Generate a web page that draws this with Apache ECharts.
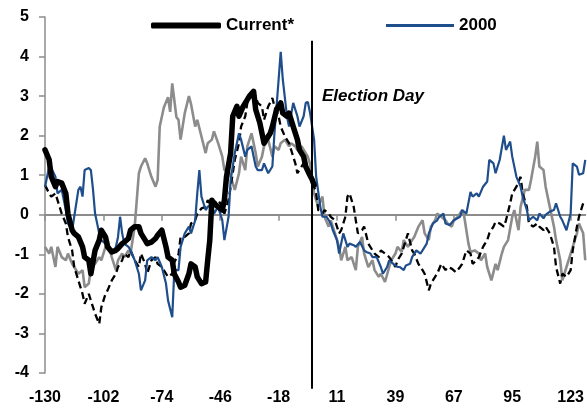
<!DOCTYPE html>
<html>
<head>
<meta charset="utf-8">
<script src="https://cdn.jsdelivr.net/npm/echarts@6/dist/echarts.min.js"></script>
<style>html,body{margin:0;padding:0;background:#fff}#c{width:587px;height:408px}</style>
</head>
<body>
<div id="c"></div>
<script>
// Trading days relative to Election Day (day 0 is not a trading day)
const categories = [];
for (let d = -130; d <= 130; d++) { if (d !== 0) categories.push(String(d)); }

const currentDays = [-130,-128,-127,-125,-124,-122,-120,-119,-117,-116,-114,-112,-111,-109,-108,-106,-104,-103,-101,-100,-98,-96,-95,-93,-92,-90,-89,-87,-85,-84,-82,-81,-79,-77,-76,-74,-72,-71,-69,-68,-66,-65,-63,-61,-60,-58,-57,-55,-53,-52,-51,-50,-49,-47,-45,-44,-43,-41,-40,-38,-37,-35,-33,-32,-30,-29,-27,-25,-24,-22,-21,-19,-17,-16,-14,-13,-11,-9,-8,-6,-5,-3,-2,-1];
const currentVals = [1.64,1.39,0.96,0.71,0.84,0.8,0.54,0.03,-0.39,-0.47,-0.56,-0.81,-1.07,-1.15,-1.49,-0.9,-0.64,-0.39,-0.56,-0.81,-0.94,-0.9,-0.85,-0.73,-0.69,-0.6,-0.39,-0.3,-0.3,-0.47,-0.64,-0.73,-0.69,-0.6,-0.52,-0.39,-0.81,-1.07,-1.15,-1.5,-1.7,-1.83,-1.78,-1.49,-1.24,-1.32,-1.57,-1.74,-1.7,-1.15,-0.64,0.37,0.29,0.2,0.12,0.37,0.96,1.56,2.49,2.74,2.49,2.74,2.91,3.0,3.12,2.66,2.32,1.81,1.9,2.06,2.23,2.66,2.83,2.57,2.49,2.57,2.23,1.9,1.64,1.47,1.22,1.0,0.9,0.75];

const y2000Days = [-130,-128,-127,-125,-124,-122,-120,-119,-117,-116,-114,-113,-112,-111,-109,-108,-107,-106,-104,-103,-101,-100,-98,-96,-95,-94,-93,-92,-90,-89,-87,-85,-84,-82,-81,-79,-77,-76,-74,-72,-71,-69,-68,-66,-65,-63,-61,-60,-58,-57,-56,-55,-53,-52,-50,-49,-47,-45,-44,-42,-41,-39,-37,-36,-34,-33,-31,-29,-28,-26,-25,-23,-21,-20,-18,-17,-16,-14,-13,-11,-9,-8,-6,-5,-4,-3,-1,1,3,4,6,8,9,11,12,14,16,17,19,20,22,24,25,27,28,30,32,33,35,36,38,40,41,43,44,46,47,49,51,52,54,55,57,59,60,62,63,65,67,70,71,73,75,76,78,79,81,83,84,86,87,89,91,92,94,95,97,99,100,102,103,105,107,108,110,111,113,115,116,118,119,121,123,124,126,127,129,130];
const y2000Vals = [0.7,1.22,1.18,0.96,0.54,0.63,0.12,-0.22,-0.39,-0.05,0.63,0.71,0.46,1.13,1.18,1.13,0.65,0.03,-0.47,-0.64,-0.73,-0.81,-0.98,-0.81,-0.56,-0.05,-0.47,-0.73,-0.81,-0.9,-1.15,-1.49,-1.91,-1.66,-1.15,-1.07,-1.15,-1.07,-1.32,-1.74,-2.17,-2.59,-1.4,-1.4,-0.81,-0.47,-0.3,-0.47,-0.14,0.54,1.13,0.46,0.12,0.2,0.29,0.03,0.2,-0.14,-0.64,-0.05,0.88,1.56,2.06,1.9,1.47,1.64,1.73,1.22,1.13,1.13,1.3,1.05,1.22,2.06,3.42,4.12,3.42,2.49,2.23,2.83,2.49,2.23,2.49,2.83,2.85,2.6,1.9,0.96,0.2,-0.05,-0.05,-0.22,-0.39,-0.64,-0.98,-0.47,-0.81,-0.73,-0.77,-0.81,-0.69,-0.9,-0.94,-0.98,-1.07,-1.07,-1.32,-1.49,-1.32,-1.15,-1.24,-1.32,-1.32,-1.4,-1.28,-1.24,-1.07,-0.9,-0.98,-0.9,-0.73,-0.47,-0.22,-0.14,-0.05,0.03,-0.22,-0.26,-0.14,-0.05,0.12,0.03,0.58,0.46,0.54,0.46,0.71,0.84,1.39,1.3,1.05,1.39,2.0,1.64,1.85,1.47,0.96,0.71,0.46,0.12,-0.14,-0.05,-0.14,0.03,-0.09,0.0,0.08,0.12,0.29,-0.05,-0.14,-0.39,0.03,1.3,1.22,1.01,1.05,1.39];

const grayDays = [-130,-128,-127,-125,-124,-122,-120,-119,-117,-116,-114,-112,-111,-109,-108,-106,-104,-103,-101,-100,-98,-96,-95,-93,-92,-90,-89,-87,-85,-84,-82,-81,-79,-77,-76,-75,-73,-71,-70,-69,-67,-66,-65,-63,-61,-60,-58,-57,-55,-53,-52,-50,-49,-47,-45,-44,-42,-41,-39,-37,-36,-34,-33,-31,-29,-28,-26,-25,-23,-21,-20,-18,-17,-15,-13,-12,-10,-9,-7,-5,-4,-3,-2,-1,2,4,5,7,8,10,12,13,15,16,18,20,21,23,24,26,28,29,31,32,34,36,37,39,40,42,43,45,47,48,50,52,53,55,56,58,59,61,63,64,66,67,69,71,72,74,75,77,79,80,82,83,85,87,88,90,91,93,95,96,98,99,101,103,104,106,107,108,110,111,113,115,116,118,119,121,123,124,126,127,129,130];
const grayVals = [-0.81,-0.98,-0.81,-1.32,-0.81,-1.07,-1.15,-0.98,-1.24,-1.32,-1.49,-1.4,-1.83,-1.74,-1.32,-1.24,-1.07,-1.15,-0.81,-0.64,-1.07,-1.4,-1.15,-0.98,-1.07,-0.9,-0.98,-0.3,1.05,1.22,1.43,1.3,0.96,0.71,0.88,2.23,2.72,2.97,2.6,3.32,2.47,2.4,1.9,2.57,3.0,2.8,2.23,2.4,1.98,1.56,1.81,1.9,2.11,1.81,1.47,1.13,1.13,0.96,0.63,1.05,1.47,1.13,1.73,2.06,1.56,1.22,1.47,1.73,1.9,1.47,1.73,1.64,1.81,1.9,1.73,1.81,1.73,1.64,1.73,1.56,1.47,1.3,0.96,0.54,0.2,0.46,-0.05,-0.3,-0.14,-0.47,-0.81,-1.15,-0.81,-1.15,-1.07,-1.4,-0.81,-0.56,-0.98,-1.32,-1.15,-1.4,-1.57,-1.49,-1.7,-1.32,-1.15,-0.98,-0.81,-0.94,-0.64,-0.81,-0.64,-0.56,-0.3,-0.14,-0.47,-0.64,-0.3,-0.14,0.03,-0.05,-0.14,-0.22,-0.3,-0.14,-0.05,0.12,-0.05,-0.73,-0.94,-0.9,-0.98,-1.15,-0.98,-1.32,-1.66,-1.24,-1.4,-0.98,-0.81,-0.64,-0.05,0.12,-0.39,0.2,0.63,0.63,0.88,1.47,1.85,1.22,1.13,0.71,0.2,-0.3,-0.64,-1.15,-1.66,-1.32,-0.98,-0.81,-0.47,-0.22,-0.47,-1.15];

const dashDays = [-130,-128,-127,-125,-124,-122,-120,-119,-117,-116,-114,-112,-111,-109,-108,-106,-104,-103,-101,-100,-98,-96,-95,-93,-92,-90,-89,-87,-85,-84,-82,-81,-79,-77,-76,-74,-72,-71,-69,-68,-66,-65,-63,-61,-60,-58,-57,-55,-53,-52,-50,-49,-47,-45,-44,-42,-41,-39,-37,-36,-34,-33,-31,-29,-28,-26,-25,-23,-21,-20,-18,-17,-15,-13,-12,-10,-9,-7,-5,-4,-2,-1,1,2,4,5,7,8,10,12,13,15,16,17,19,20,21,23,24,26,28,29,31,32,34,36,37,39,40,42,43,45,47,48,50,52,53,55,56,58,59,61,63,64,66,68,70,71,73,75,76,78,79,81,83,84,86,87,89,91,92,94,95,97,99,100,102,103,105,107,108,110,111,113,115,116,118,119,121,123,124,126,127,129,130];
const dashVals = [0.75,0.54,0.46,0.54,0.37,0.03,-0.22,-0.56,-0.9,-1.32,-1.66,-2.0,-2.25,-2.0,-2.17,-2.5,-2.76,-2.34,-2.0,-1.91,-1.66,-1.49,-1.32,-1.15,-0.98,-1.07,-0.9,-1.15,-1.32,-0.98,-1.24,-1.49,-1.15,-1.07,-1.24,-1.32,-1.49,-1.57,-1.49,-1.2,-1.0,-0.56,-0.56,-0.47,-0.22,-0.14,0.03,0.16,0.2,0.37,0.2,0.29,0.37,0.2,0.03,0.37,0.71,1.39,1.81,2.23,2.49,2.83,3.0,3.0,2.83,2.74,2.4,2.74,2.95,2.74,2.49,2.23,1.98,1.81,1.64,1.3,1.05,1.22,1.39,1.05,0.88,0.71,0.54,0.12,0.03,0.12,0.03,-0.05,-0.14,-0.47,-0.39,-0.05,0.46,0.54,0.2,-0.14,-0.47,-0.39,-0.3,-0.73,-0.9,-0.98,-1.07,-0.9,-0.98,-1.07,-1.15,-1.32,-1.15,-0.98,-0.81,-0.47,-0.9,-0.98,-1.24,-1.4,-1.49,-1.91,-1.74,-1.57,-1.49,-1.24,-1.4,-1.32,-1.36,-1.45,-1.32,-1.24,-0.9,-0.98,-1.24,-1.15,-1.07,-0.81,-0.64,-0.47,-0.3,-0.18,-0.22,-0.3,-0.14,0.29,0.54,0.71,0.96,0.54,0.2,-0.22,-0.3,-0.22,-0.3,-0.39,-0.3,-0.47,-0.81,-1.32,-1.74,-1.49,-1.57,-1.4,-0.9,-0.3,-0.05,0.29,0.37];

const yTicks = { min: -4, max: 5, interval: 1 };
const electionLabel = 'Election Day';

function pairs(days, vals) { return days.map((d, i) => [String(d), vals[i]]); }

const FONT = '"Liberation Sans", Arial, Helvetica, sans-serif';
const chart = echarts.init(document.getElementById('c'), null, { renderer: 'canvas', width: 587, height: 408 });

const option = {
  animation: false,
  backgroundColor: '#ffffff',
  grid: { left: 45, top: 17, width: 541, height: 356, containLabel: false },
  legend: [
    { data: ['Current*'], left: 151, top: 17, padding: 0, itemWidth: 70, itemHeight: 6, icon: 'roundRect', selectedMode: false,
      textStyle: { fontFamily: FONT, fontSize: 17, fontWeight: 'bold', color: '#000' } },
    { data: ['2000'], left: 386, top: 17, padding: 0, itemWidth: 68, itemHeight: 3, icon: 'rect', selectedMode: false,
      textStyle: { fontFamily: FONT, fontSize: 17, fontWeight: 'bold', color: '#000' } }
  ],
  xAxis: [
    { type: 'category', data: categories, boundaryGap: false, position: 'bottom',
      axisLine: { onZero: true, lineStyle: { color: '#8c8c8c', width: 2 } },
      axisTick: { show: true, interval: 27, length: 6, lineStyle: { color: '#8c8c8c', width: 1.5 } },
      axisLabel: { show: false }, splitLine: { show: false } },
    { type: 'category', data: categories, boundaryGap: false, position: 'bottom',
      axisLine: { show: false, onZero: false }, axisTick: { show: false },
      axisLabel: { show: true, interval: 27, margin: 17, fontFamily: FONT, fontSize: 16, fontWeight: 'bold', color: '#000' },
      splitLine: { show: false } }
  ],
  yAxis: {
    type: 'value', min: yTicks.min, max: yTicks.max, interval: yTicks.interval,
    axisLine: { show: true, lineStyle: { color: '#8c8c8c', width: 1.5 } },
    axisTick: { show: true, length: 6, lineStyle: { color: '#8c8c8c', width: 1.5 } },
    axisLabel: { margin: 16, fontFamily: FONT, fontSize: 16, fontWeight: 'bold', color: '#000' },
    splitLine: { show: false }
  },
  series: [
    { name: 'gray', type: 'line', data: pairs(grayDays, grayVals), showSymbol: false, symbol: 'none', color: '#8c8c8c',
      lineStyle: { color: '#8c8c8c', width: 2.6 }, z: 2 },
    { name: 'dashed', type: 'line', data: pairs(dashDays, dashVals), showSymbol: false, symbol: 'none', color: '#000',
      lineStyle: { color: '#000', width: 2.3, type: [7, 4] }, z: 3 },
    { name: '2000', type: 'line', data: pairs(y2000Days, y2000Vals), showSymbol: false, symbol: 'none', color: '#1f4e8c',
      lineStyle: { color: '#1f4e8c', width: 2.2 }, z: 4 },
    { name: 'Current*', type: 'line', data: pairs(currentDays, currentVals), showSymbol: false, symbol: 'none', color: '#000',
      lineStyle: { color: '#000', width: 5.5, join: 'round', cap: 'round' }, z: 5 }
  ]
};
chart.setOption(option);

// Election Day marker, positioned through the chart's own scales
const ex = chart.convertToPixel({ xAxisIndex: 0 }, '-2');
const yTop = chart.convertToPixel({ yAxisIndex: 0 }, 4.4);
const yBot = chart.convertToPixel({ yAxisIndex: 0 }, -4.4);
const yTxt = chart.convertToPixel({ yAxisIndex: 0 }, 3.0);
chart.setOption({
  graphic: [
    { type: 'line', shape: { x1: ex, y1: yTop, x2: ex, y2: yBot }, style: { stroke: '#000', lineWidth: 2 }, z: 10 },
    { type: 'text', x: ex + 10, y: yTxt, style: { text: electionLabel, font: 'italic bold 17px ' + FONT, fill: '#000', textVerticalAlign: 'middle', textAlign: 'left' }, z: 10 }
  ]
});
</script>
</body>
</html>
